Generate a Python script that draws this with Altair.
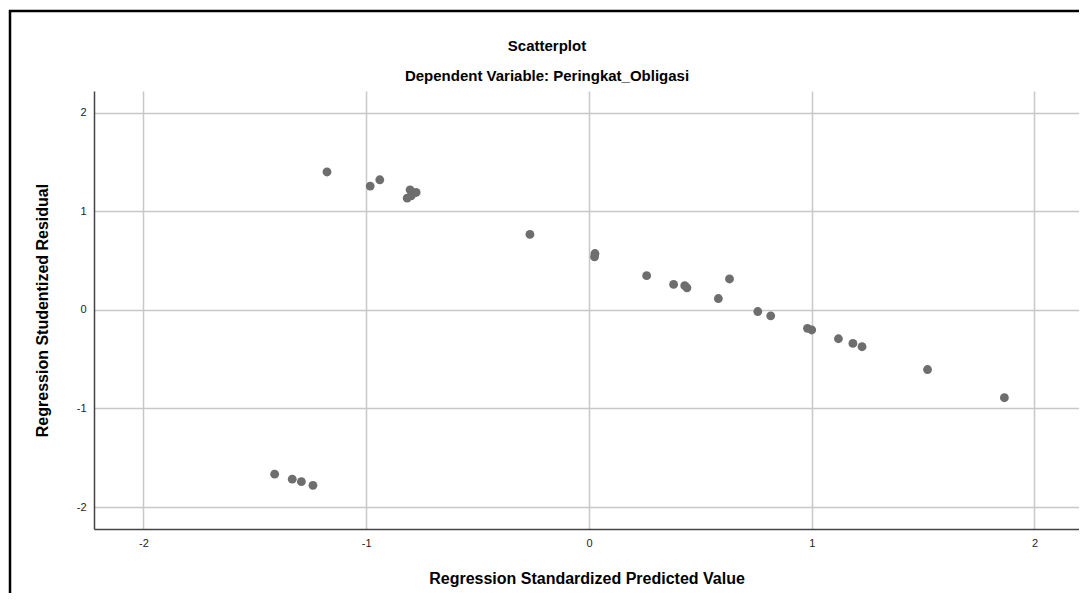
import altair as alt
import pandas as pd

# Data
predicted = [-1.176, -0.982, -0.939, -0.816, -0.803, -0.776, -0.798,
             -1.411, -1.332, -1.291, -1.239,
             -0.265, 0.027, 0.025, 0.259, 0.380, 0.430, 0.440, 0.631, 0.581,
             0.758, 0.816, 0.981, 1.000, 1.120, 1.185, 1.226, 1.520, 1.865]
residual = [1.398, 1.255, 1.319, 1.133, 1.217, 1.190, 1.156,
            -1.666, -1.717, -1.742, -1.779,
            0.765, 0.571, 0.538, 0.347, 0.258, 0.245, 0.224, 0.313, 0.115,
            -0.017, -0.061, -0.187, -0.204, -0.293, -0.340, -0.374, -0.605, -0.891]
tick_values = [-2, -1, 0, 1, 2]
title_text = "Scatterplot"
subtitle_text = "Dependent Variable: Peringkat_Obligasi"

df = pd.DataFrame({"pred": predicted, "resid": residual})

FONT = "Liberation Sans"
W, H = 985, 438

points = alt.Chart(df).mark_circle(size=78, color="#6e6e6e", opacity=1).encode(
    x=alt.X("pred:Q",
            scale=alt.Scale(domain=[-2.222, 2.2], nice=False, zero=False),
            axis=alt.Axis(values=tick_values, title="Regression Standardized Predicted Value",
                          labelExpr="'' + datum.value", tickSize=0,
                          labelPadding=8, titlePadding=22)),
    y=alt.Y("resid:Q",
            scale=alt.Scale(domain=[-2.222, 2.219], nice=False, zero=False),
            axis=alt.Axis(values=tick_values, title="Regression Studentized Residual",
                          labelExpr="'' + datum.value", tickSize=0,
                          labelPadding=8, titlePadding=26)),
)

one = pd.DataFrame({"k": [0]})

title_mark = alt.Chart(one).mark_text(
    font=FONT, fontSize=15, fontWeight="bold", color="#000000",
    align="center", baseline="middle"
).encode(x=alt.value(453), y=alt.value(-45), text=alt.value(title_text))

subtitle_mark = alt.Chart(one).mark_text(
    font=FONT, fontSize=15, fontWeight="bold", color="#000000",
    align="center", baseline="middle"
).encode(x=alt.value(453), y=alt.value(-15), text=alt.value(subtitle_text))

# decorative outer frame (top and left edges)
frame_top = alt.Chart(one).mark_rule(color="black", strokeWidth=2.5).encode(
    x=alt.value(-85), x2=alt.value(W), y=alt.value(-80)
)
frame_left = alt.Chart(one).mark_rule(color="black", strokeWidth=2.5).encode(
    x=alt.value(-84), y=alt.value(-81), y2=alt.value(H + 64)
)

chart = alt.layer(points, title_mark, subtitle_mark, frame_top, frame_left).properties(
    width=W,
    height=H,
    padding={"left": 86, "top": 83, "right": 0, "bottom": 64},
    autosize=alt.AutoSizeParams(type="none"),
).configure_view(stroke=None).configure_axis(
    labelFont=FONT, labelFontSize=11, labelColor="#222222",
    titleFont=FONT, titleFontSize=16, titleFontWeight="bold", titleColor="#000000",
    gridColor="#c8c8c8", gridWidth=1.5,
    domainColor="#444444", domainWidth=1.5,
)

chart.save("out.html", embed_options={"renderer": "svg", "actions": False})
